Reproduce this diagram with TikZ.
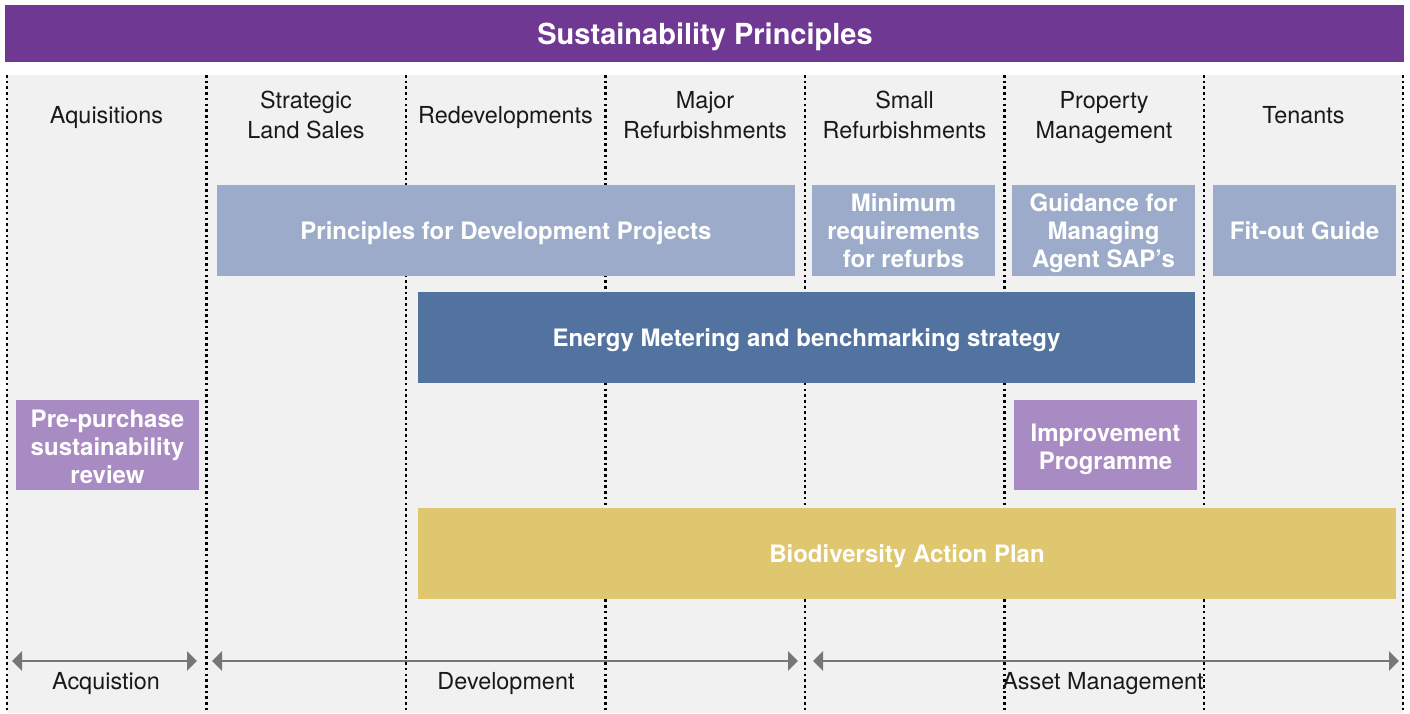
\documentclass[tikz,border=0pt]{standalone}
\usepackage{fontspec}
\setmainfont{TeX Gyre Heros}
\usetikzlibrary{arrows.meta}
\definecolor{bannerc}{HTML}{6F3893}
\definecolor{bgc}{HTML}{F1F1F1}
\definecolor{lblue}{HTML}{9BABC9}
\definecolor{dblue}{HTML}{52729F}
\definecolor{lpurple}{HTML}{A98BC4}
\definecolor{yellowc}{HTML}{DEC76F}
\definecolor{arrc}{HTML}{767676}
\newcommand{\SL}[1]{\strut#1}
\tikzset{
  dotline/.style={black, line width=2.6pt, dash pattern=on 2.6pt off 3.1pt},
  colhead/.style={font=\fontsize{23.4}{30}\selectfont, align=center, text=black!90, inner sep=0pt},
  boxbg/.style={inner sep=0pt, minimum height=91pt},
  boxtext/.style={inner sep=0pt, align=center, text=white, font=\bfseries\fontsize{24}{28}\selectfont},
  phase/.style={font=\fontsize{23.4}{30}\selectfont, text=black!90, inner sep=0pt},
  arr/.style={arrc, line width=2.4pt, {Triangle[length=10pt,width=19pt]}-{Triangle[length=10pt,width=19pt]}},
}
\begin{document}
\begin{tikzpicture}[x=1pt,y=-1pt]
\useasboundingbox (0,0) rectangle (1410,713);
\fill[white] (0,0) rectangle (1410,713);
\node[fill=bannerc, minimum width=1399pt, minimum height=57pt, inner sep=0pt] (title) at (704.5,33.5) {};
\node[inner sep=0pt, text=white, font=\bfseries\fontsize{29}{34}\selectfont] (titlet) at (705,38) {\strut Sustainability Principles};
\fill[bgc] (7,75) rectangle (1403,713);
\foreach \x in {7,206.5,406,605.5,805,1004.5,1204,1403}
  \draw[dotline] (\x,75) -- (\x,713);
% column headers
\node[colhead] (h1) at (106.5,117.25) {\SL{Aquisitions}};
\node[colhead] (h2) at (306,117.25) {\SL{Strategic}\\\SL{Land Sales}};
\node[colhead] (h3) at (505.5,117.25) {\SL{Redevelopments}};
\node[colhead] (h4) at (705,117.25) {\SL{Major}\\\SL{Refurbishments}};
\node[colhead] (h5) at (904.5,117.25) {\SL{Small}\\\SL{Refurbishments}};
\node[colhead] (h6) at (1104,117.25) {\SL{Property}\\\SL{Management}};
\node[colhead] (h7) at (1303.5,117.25) {\SL{Tenants}};
% boxes
\node[boxbg, fill=lblue, minimum width=578pt] (pdp) at (506,230.5) {};
\node[boxtext] (pdpt) at (506,233.5) {\SL{Principles for Development Projects}};
\node[boxbg, fill=lblue, minimum width=183pt] (minr) at (903.5,230.5) {};
\node[boxtext] (minrt) at (903.5,234) {\SL{Minimum}\\\SL{requirements}\\\SL{for refurbs}};
\node[boxbg, fill=lblue, minimum width=183pt] (guid) at (1103.5,230.5) {};
\node[boxtext] (guidt) at (1103.5,234) {\SL{Guidance for}\\\SL{Managing}\\\SL{Agent SAP’s}};
\node[boxbg, fill=lblue, minimum width=183pt] (fit) at (1304.5,230.5) {};
\node[boxtext] (fitt) at (1304.5,233.5) {\SL{Fit-out Guide}};
\node[boxbg, fill=dblue, minimum width=777pt] (energy) at (806.5,337.5) {};
\node[boxtext] (energyt) at (806.5,341) {\SL{Energy Metering and benchmarking strategy}};
\node[boxbg, fill=lpurple, minimum width=183pt, minimum height=90pt] (pre) at (107.5,445) {};
\node[boxtext] (pret) at (107.5,450) {\SL{Pre-purchase}\\\SL{sustainability}\\\SL{review}};
\node[boxbg, fill=lpurple, minimum width=183pt, minimum height=90pt] (imp) at (1105.5,445) {};
\node[boxtext] (impt) at (1105.5,449.5) {\SL{Improvement}\\\SL{Programme}};
\node[boxbg, fill=yellowc, minimum width=978pt] (bio) at (907,553.5) {};
\node[boxtext] (biot) at (907,557) {\SL{Biodiversity Action Plan}};
% phase arrows
\coordinate (a1l) at (12,661); \coordinate (a1r) at (197,661);
\coordinate (a2l) at (212,661); \coordinate (a2r) at (798,661);
\coordinate (a3l) at (813,661); \coordinate (a3r) at (1399,661);
\draw[arr] (a1l) -- (a1r);
\draw[arr] (a2l) -- (a2r);
\draw[arr] (a3l) -- (a3r);
\node[phase] (p1) at (106,683.4) {\SL{Acquistion}};
\node[phase] (p2) at (506,683.4) {\SL{Development}};
\node[phase] (p3) at (1103,683.4) {\SL{Asset Management}};
\end{tikzpicture}
\end{document}
